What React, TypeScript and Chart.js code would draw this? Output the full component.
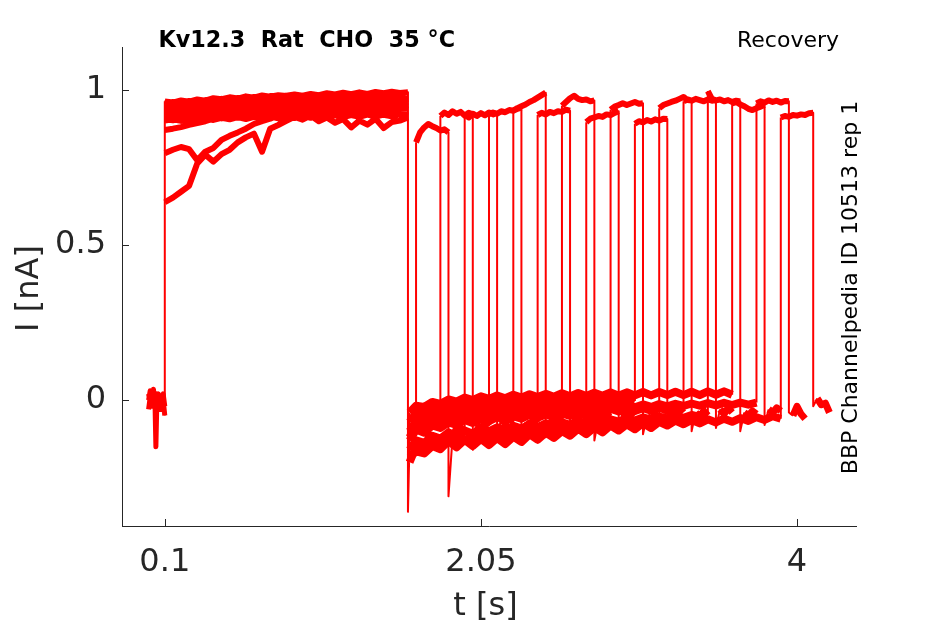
import React, { useEffect, useRef } from "react";
import { Chart, registerables } from "chart.js";

Chart.register(...registerables);

// ---- axes ----
const xTicks = [0.1, 2.05, 4];
const xTickLabels = ["0.1", "2.05", "4"];
const yTicks = [0, 0.5, 1];
const yTickLabels = ["0", "0.5", "1"];
const xRange = [-0.164, 4.364];
const yRange = [-0.4055, 1.137];

const titleText = "Kv12.3  Rat  CHO  35 °C";
const protocolText = "Recovery";
const sideText = "BBP Channelpedia ID 10513 rep 1";
const xTitle = "t [s]";
const yTitle = "I [nA]";

// ---- holding before the activation step (s / nA) ----
const baseTimes = [0, 0.01, 0.02, 0.03, 0.04, 0.045, 0.05, 0.06, 0.07, 0.08, 0.09, 0.1];
const baseProfiles = [
  [0.02, -0.01, 0.03, 0.0, -0.02, -0.15, -0.03, 0.01, -0.02, 0.01, -0.03, -0.04],
  [-0.03, 0.01, -0.02, 0.035, -0.01, 0.0, 0.02, -0.02, 0.01, -0.03, 0.0, -0.05],
  [0.0, 0.03, -0.01, 0.01, 0.02, -0.02, 0.0, 0.02, -0.03, 0.0, 0.02, -0.02],
];
const baseProfileOf = [0, 1, 2, 1, 2, 1, 2, 1, 2, 1, 2, 1, 2, 1, 2, 1];

// ---- activation pulse (nA) ----
const preTimes = [0.1, 0.15, 0.2, 0.25, 0.3, 0.35, 0.4, 0.45, 0.5, 0.55, 0.6, 0.65, 0.7, 0.75, 0.8, 0.85, 0.9, 0.95, 1.0, 1.05, 1.1, 1.15, 1.2, 1.25, 1.3, 1.35, 1.4, 1.45, 1.5, 1.55, 1.6];
const preValues = [
  [0.637, 0.652, 0.671, 0.69, 0.762, 0.79, 0.768, 0.792, 0.806, 0.83, 0.846, 0.858, 0.8, 0.874, 0.886, 0.899, 0.912, 0.903, 0.916, 0.898, 0.91, 0.893, 0.905, 0.878, 0.9, 0.887, 0.906, 0.876, 0.895, 0.9, 0.91],
  [0.795, 0.806, 0.815, 0.808, 0.772, 0.8, 0.812, 0.838, 0.851, 0.862, 0.874, 0.889, 0.898, 0.906, 0.918, 0.928, 0.924, 0.936, 0.94, 0.929, 0.945, 0.938, 0.951, 0.944, 0.955, 0.948, 0.944, 0.939, 0.946, 0.938, 0.935],
  [0.87, 0.874, 0.879, 0.886, 0.892, 0.898, 0.906, 0.913, 0.921, 0.928, 0.934, 0.94, 0.946, 0.95, 0.955, 0.958, 0.954, 0.962, 0.965, 0.956, 0.961, 0.966, 0.959, 0.966, 0.97, 0.962, 0.966, 0.971, 0.964, 0.97, 0.975],
  [0.962, 0.958, 0.965, 0.961, 0.968, 0.964, 0.972, 0.969, 0.975, 0.971, 0.978, 0.974, 0.981, 0.977, 0.982, 0.979, 0.984, 0.98, 0.986, 0.982, 0.988, 0.984, 0.99, 0.985, 0.991, 0.986, 0.992, 0.988, 0.993, 0.989, 0.991],
  [0.955, 0.96, 0.957, 0.963, 0.96, 0.966, 0.962, 0.97, 0.966, 0.973, 0.969, 0.976, 0.972, 0.979, 0.975, 0.98, 0.984, 0.979, 0.986, 0.981, 0.988, 0.983, 0.99, 0.985, 0.989, 0.984, 0.991, 0.986, 0.992, 0.988, 0.99],
  [0.948, 0.953, 0.95, 0.956, 0.952, 0.959, 0.955, 0.962, 0.958, 0.965, 0.961, 0.968, 0.963, 0.97, 0.966, 0.974, 0.97, 0.977, 0.973, 0.979, 0.975, 0.981, 0.977, 0.983, 0.978, 0.984, 0.98, 0.986, 0.981, 0.987, 0.985],
  [0.945, 0.941, 0.948, 0.944, 0.951, 0.947, 0.955, 0.95, 0.958, 0.953, 0.961, 0.956, 0.964, 0.96, 0.967, 0.963, 0.97, 0.966, 0.972, 0.968, 0.975, 0.97, 0.977, 0.972, 0.978, 0.973, 0.98, 0.975, 0.981, 0.976, 0.98],
  [0.94, 0.944, 0.938, 0.946, 0.942, 0.949, 0.944, 0.952, 0.948, 0.956, 0.951, 0.958, 0.954, 0.961, 0.957, 0.963, 0.959, 0.966, 0.961, 0.968, 0.963, 0.97, 0.965, 0.972, 0.967, 0.973, 0.968, 0.975, 0.97, 0.976, 0.975],
  [0.935, 0.93, 0.937, 0.933, 0.94, 0.936, 0.943, 0.938, 0.946, 0.941, 0.949, 0.944, 0.952, 0.947, 0.955, 0.95, 0.957, 0.935, 0.96, 0.954, 0.962, 0.956, 0.964, 0.958, 0.966, 0.945, 0.967, 0.961, 0.969, 0.963, 0.97],
  [0.93, 0.934, 0.928, 0.936, 0.931, 0.939, 0.934, 0.942, 0.937, 0.945, 0.94, 0.947, 0.942, 0.95, 0.945, 0.952, 0.947, 0.955, 0.949, 0.957, 0.951, 0.959, 0.953, 0.96, 0.955, 0.962, 0.956, 0.963, 0.958, 0.964, 0.965],
  [0.925, 0.921, 0.928, 0.923, 0.931, 0.926, 0.934, 0.929, 0.937, 0.932, 0.94, 0.935, 0.943, 0.938, 0.946, 0.94, 0.948, 0.943, 0.95, 0.945, 0.952, 0.925, 0.954, 0.948, 0.956, 0.95, 0.957, 0.93, 0.958, 0.953, 0.96],
  [0.92, 0.924, 0.918, 0.926, 0.921, 0.929, 0.924, 0.932, 0.927, 0.935, 0.93, 0.938, 0.932, 0.94, 0.935, 0.942, 0.937, 0.944, 0.939, 0.946, 0.941, 0.948, 0.943, 0.95, 0.944, 0.951, 0.946, 0.952, 0.947, 0.953, 0.955],
  [0.915, 0.911, 0.918, 0.913, 0.921, 0.916, 0.924, 0.919, 0.927, 0.922, 0.93, 0.925, 0.932, 0.927, 0.935, 0.929, 0.937, 0.931, 0.939, 0.933, 0.941, 0.935, 0.943, 0.937, 0.944, 0.938, 0.946, 0.94, 0.947, 0.942, 0.95],
  [0.91, 0.914, 0.908, 0.916, 0.911, 0.918, 0.913, 0.92, 0.915, 0.922, 0.917, 0.924, 0.919, 0.926, 0.921, 0.928, 0.923, 0.93, 0.925, 0.932, 0.927, 0.934, 0.91, 0.936, 0.93, 0.937, 0.932, 0.938, 0.933, 0.939, 0.94],
  [0.905, 0.901, 0.908, 0.903, 0.91, 0.905, 0.912, 0.907, 0.914, 0.909, 0.916, 0.911, 0.918, 0.913, 0.92, 0.915, 0.922, 0.917, 0.924, 0.918, 0.925, 0.919, 0.926, 0.92, 0.927, 0.921, 0.928, 0.922, 0.929, 0.923, 0.93],
  [0.9, 0.904, 0.899, 0.906, 0.9, 0.908, 0.902, 0.909, 0.904, 0.911, 0.905, 0.912, 0.906, 0.913, 0.907, 0.914, 0.908, 0.915, 0.909, 0.916, 0.91, 0.917, 0.911, 0.918, 0.912, 0.919, 0.913, 0.919, 0.914, 0.92, 0.92],
];

// ---- tail after the activation pulse (nA) ----
const tailDrop = [-0.36, -0.24, -0.2, -0.22, -0.18, -0.15, -0.2, -0.17, -0.14, -0.19, -0.16, -0.12, -0.21, -0.15, -0.18, -0.13];
const tailTimes = [1.61, 1.65, 1.7, 1.75, 1.8, 1.85, 1.9, 1.95, 2.0, 2.05, 2.1, 2.15, 2.2, 2.25, 2.3, 2.35, 2.4, 2.45, 2.5, 2.55, 2.6, 2.65, 2.7, 2.75, 2.8, 2.85, 2.9, 2.95, 3.0, 3.05, 3.1, 3.15, 3.2, 3.25, 3.3, 3.35, 3.4, 3.45, 3.5, 3.55, 3.6, 3.65, 3.7, 3.75, 3.8, 3.85, 3.9];
const tailProfiles = [
  [-0.185, -0.165, -0.172, -0.148, -0.158, -0.132, -0.152, -0.128, -0.148, -0.125, -0.145, -0.122, -0.142, -0.118, -0.135, -0.11, -0.128, -0.105, -0.122, -0.1, -0.115, -0.092, -0.11, -0.088, -0.104, -0.082, -0.098, -0.078, -0.094, -0.074, -0.09, -0.07, -0.086, -0.068, -0.082, -0.064, -0.078, -0.06, -0.074, -0.058, -0.07, -0.054, -0.066, -0.05, -0.062, -0.048, -0.056],
  [-0.16, -0.13, -0.138, -0.115, -0.124, -0.104, -0.115, -0.098, -0.108, -0.092, -0.101, -0.088, -0.096, -0.083, -0.092, -0.079, -0.088, -0.075, -0.084, -0.072, -0.08, -0.068, -0.076, -0.065, -0.072, -0.062, -0.069, -0.059, -0.066, -0.056, -0.063, -0.053, -0.06, -0.05, -0.057, -0.048, -0.054, -0.046, -0.052, -0.044, -0.05, -0.042, -0.048, -0.04, -0.046, -0.038, -0.044],
  [-0.13, -0.095, -0.105, -0.082, -0.09, -0.072, -0.08, -0.064, -0.074, -0.06, -0.068, -0.055, -0.064, -0.052, -0.06, -0.048, -0.057, -0.046, -0.054, -0.043, -0.051, -0.04, -0.049, -0.038, -0.047, -0.036, -0.045, -0.035, -0.043, -0.033, -0.042, -0.032, -0.04, -0.03, -0.039, -0.029, -0.037, -0.028, -0.036, -0.027, -0.035, -0.026, -0.034, -0.025, -0.033, -0.024, -0.03],
  [-0.1, -0.068, -0.075, -0.055, -0.062, -0.046, -0.054, -0.04, -0.048, -0.036, -0.043, -0.032, -0.04, -0.029, -0.037, -0.026, -0.034, -0.024, -0.031, -0.022, -0.029, -0.02, -0.027, -0.018, -0.026, -0.017, -0.024, -0.015, -0.023, -0.014, -0.022, -0.013, -0.02, -0.012, -0.019, -0.011, -0.018, -0.01, -0.017, -0.009, -0.016, -0.008, -0.015, -0.008, -0.014, -0.007, -0.012],
  [-0.07, -0.042, -0.048, -0.03, -0.036, -0.022, -0.029, -0.016, -0.024, -0.012, -0.02, -0.009, -0.016, -0.006, -0.014, -0.004, -0.012, -0.002, -0.01, 0.0, -0.008, 0.002, -0.006, 0.003, -0.005, 0.004, -0.004, 0.005, -0.003, 0.006, -0.002, 0.007, -0.001, 0.008, 0.0, 0.008, 0.001, 0.009, 0.001, 0.01, 0.002, 0.01, 0.003, 0.011, 0.003, 0.012, 0.005],
  [-0.04, -0.018, -0.022, -0.006, -0.012, 0.002, -0.005, 0.008, 0.0, 0.012, 0.004, 0.015, 0.006, 0.017, 0.008, 0.019, 0.01, 0.02, 0.011, 0.022, 0.012, 0.023, 0.013, 0.024, 0.014, 0.025, 0.014, 0.025, 0.015, 0.026, 0.015, 0.026, 0.016, 0.027, 0.016, 0.027, 0.016, 0.028, 0.017, 0.028, 0.017, 0.029, 0.017, 0.028, 0.016, 0.027, 0.018],
  [-0.2, -0.15, -0.16, -0.135, -0.155, -0.12, -0.14, -0.125, -0.135, -0.11, -0.13, -0.105, -0.125, -0.1, -0.118, -0.095, -0.112, -0.092, -0.108, -0.088, -0.104, -0.085, -0.1, -0.08, -0.096, -0.078, -0.092, -0.075, -0.088, -0.072, -0.085, -0.07, -0.082, -0.066, -0.078, -0.064, -0.075, -0.062, -0.072, -0.06, -0.07, -0.058, -0.067, -0.055, -0.064, -0.052, -0.06],
  [-0.12, -0.08, -0.09, -0.066, -0.075, -0.058, -0.068, -0.05, -0.062, -0.047, -0.056, -0.043, -0.052, -0.04, -0.049, -0.037, -0.046, -0.035, -0.044, -0.033, -0.042, -0.031, -0.04, -0.03, -0.038, -0.028, -0.037, -0.027, -0.035, -0.026, -0.034, -0.025, -0.033, -0.024, -0.032, -0.023, -0.031, -0.022, -0.03, -0.021, -0.029, -0.02, -0.028, -0.019, -0.027, -0.018, -0.022],
];
const tailProfileOf = [2, 4, 0, 7, 1, 5, 3, 6, 2, 4, 0, 7, 1, 5, 3, 6];

// ---- test pulses (start time in s, values in nA) ----
const testStarts = [1.65, 1.8, 1.95, 2.1, 2.25, 2.4, 2.55, 2.7, 2.85, 3.0, 3.15, 3.3, 3.45, 3.6, 3.75, 3.9];
const testOffsets = [0, 0.025, 0.05, 0.075, 0.1, 0.125, 0.15, 0.175, 0.2];
const testValues = [
  [0.83, 0.862, 0.878, 0.889, 0.882, 0.876, 0.868, 0.872, 0.862],
  [0.915, 0.926, 0.918, 0.93, 0.922, 0.928, 0.916, 0.925, 0.92],
  [0.918, 0.91, 0.922, 0.915, 0.924, 0.917, 0.926, 0.92, 0.925],
  [0.92, 0.926, 0.922, 0.93, 0.927, 0.934, 0.932, 0.938, 0.942],
  [0.932, 0.94, 0.946, 0.952, 0.96, 0.966, 0.974, 0.982, 0.99],
  [0.918, 0.925, 0.92, 0.928, 0.924, 0.93, 0.928, 0.935, 0.932],
  [0.948, 0.96, 0.972, 0.98, 0.97, 0.966, 0.968, 0.962, 0.965],
  [0.895, 0.906, 0.91, 0.915, 0.912, 0.92, 0.918, 0.925, 0.93],
  [0.935, 0.945, 0.95, 0.956, 0.95, 0.955, 0.96, 0.954, 0.956],
  [0.89, 0.898, 0.894, 0.902, 0.897, 0.904, 0.9, 0.906, 0.905],
  [0.94, 0.95, 0.955, 0.96, 0.964, 0.97, 0.976, 0.966, 0.965],
  [0.962, 0.968, 0.964, 0.97, 0.966, 0.962, 0.968, 0.964, 0.966],
  [0.995, 0.97, 0.965, 0.968, 0.962, 0.966, 0.96, 0.964, 0.962],
  [0.955, 0.96, 0.952, 0.946, 0.938, 0.934, 0.94, 0.945, 0.95],
  [0.955, 0.962, 0.958, 0.965, 0.96, 0.964, 0.958, 0.963, 0.962],
  [0.91, 0.915, 0.912, 0.918, 0.916, 0.92, 0.918, 0.924, 0.925],
];

// ---- after each test pulse (offset from test start in s, values in nA) ----
const postOffsets = [0.2, 0.225, 0.25, 0.275, 0.3];
const postValues = [
  [-0.31, -0.12, -0.09, -0.1, -0.085],
  [-0.16, -0.08, -0.095, -0.07, -0.085],
  [-0.12, -0.06, -0.075, -0.055, -0.07],
  [-0.14, -0.07, -0.085, -0.06, -0.075],
  [-0.12, -0.06, -0.07, -0.05, -0.065],
  [-0.1, -0.045, -0.06, -0.04, -0.055],
  [-0.13, -0.06, -0.075, -0.05, -0.065],
  [-0.09, -0.04, -0.055, -0.035, -0.05],
  [-0.11, -0.05, -0.065, -0.045, -0.06],
  [-0.08, -0.03, -0.045, -0.025, -0.04],
  [-0.1, -0.04, -0.055, -0.035, -0.05],
  [-0.09, -0.03, -0.045, -0.025, -0.04],
  [-0.1, -0.04, -0.05, -0.035, -0.045],
  [-0.08, -0.03, -0.04, -0.025, -0.035],
  [-0.04, -0.05, -0.02, -0.045, -0.06],
  [-0.02, 0.005, -0.015, -0.01, -0.04],
];

const traceColor = "#ff0000";
const axisColor = "#262626";
const font = "'DejaVu Sans', sans-serif";

type P = { x: number; y: number | null };

function buildSegments() {
  const base: P[] = [];
  const pre: P[] = [];
  const tail: P[] = [];
  const test: P[] = [];
  const post: P[] = [];
  const links: P[] = [];
  const gap = (arr: P[]) => arr.push({ x: arr.length ? arr[arr.length - 1].x : 0, y: null });
  testStarts.forEach((s, i) => {
    const b = baseProfiles[baseProfileOf[i]];
    baseTimes.forEach((t, j) => base.push({ x: t, y: b[j] }));
    gap(base);
    const pv = preValues[i];
    preTimes.forEach((t, j) => pre.push({ x: t, y: pv[j] }));
    gap(pre);
    const tp = tailProfiles[tailProfileOf[i]];
    let lastTail = tp[0];
    tailTimes.forEach((t, j) => {
      if (t <= s + 1e-9) {
        tail.push({ x: t, y: tp[j] });
        lastTail = tp[j];
      }
    });
    gap(tail);
    const tv = testValues[i];
    testOffsets.forEach((o, j) => test.push({ x: s + o, y: tv[j] }));
    gap(test);
    const pw = postValues[i];
    postOffsets.forEach((o, j) => {
      if (j > 0) post.push({ x: s + o, y: pw[j] });
    });
    gap(post);

    // vertical transitions
    links.push({ x: baseTimes[baseTimes.length - 1], y: b[b.length - 1] });
    links.push({ x: preTimes[0], y: pv[0] });
    gap(links);
    links.push({ x: preTimes[preTimes.length - 1], y: pv[pv.length - 1] });
    links.push({ x: preTimes[preTimes.length - 1], y: tailDrop[i] });
    links.push({ x: tailTimes[0], y: tp[0] });
    gap(links);
    links.push({ x: s, y: lastTail });
    links.push({ x: s + testOffsets[0], y: tv[0] });
    gap(links);
    links.push({ x: s + testOffsets[testOffsets.length - 1], y: tv[tv.length - 1] });
    links.push({ x: s + postOffsets[0], y: pw[0] });
    links.push({ x: s + postOffsets[1], y: pw[1] });
    gap(links);
  });
  return { base, pre, tail, test, post, links };
}

const decor = {
  id: "decor",
  afterDraw(chart: any) {
    const { ctx, chartArea, scales } = chart;
    const x = scales.x;
    const y = scales.y;
    ctx.save();
    ctx.strokeStyle = axisColor;
    ctx.lineWidth = 1;
    ctx.beginPath();
    xTicks.forEach((v) => {
      const px = Math.round(x.getPixelForValue(v)) + 0.5;
      ctx.moveTo(px, chartArea.bottom);
      ctx.lineTo(px, chartArea.bottom - 7);
    });
    yTicks.forEach((v) => {
      const py = Math.round(y.getPixelForValue(v)) + 0.5;
      ctx.moveTo(chartArea.left, py);
      ctx.lineTo(chartArea.left + 7, py);
    });
    ctx.stroke();

    ctx.fillStyle = "#000000";
    ctx.textBaseline = "alphabetic";
    ctx.font = `bold 22.3px ${font}`;
    ctx.textAlign = "left";
    ctx.fillText(titleText, 158.5, 47);
    ctx.font = `22px ${font}`;
    ctx.textAlign = "right";
    ctx.fillText(protocolText, 839, 46.5);

    ctx.save();
    ctx.translate(856.5, 287.5);
    ctx.rotate(-Math.PI / 2);
    ctx.textAlign = "center";
    ctx.fillText(sideText, 0, 0);
    ctx.restore();

    ctx.fillStyle = axisColor;
    ctx.font = `32px ${font}`;
    ctx.textAlign = "center";
    ctx.fillText(xTitle, 485.5, 615);
    ctx.save();
    ctx.translate(37.5, 288.5);
    ctx.rotate(-Math.PI / 2);
    ctx.fillText(yTitle, 0, 0);
    ctx.restore();
    ctx.restore();
  },
};

function lineSet(label: string, data: P[], width: number) {
  return {
    label,
    data,
    borderColor: traceColor,
    backgroundColor: traceColor,
    borderWidth: width,
    pointRadius: 0,
    pointHoverRadius: 0,
    fill: false,
    tension: 0,
    spanGaps: false,
    borderJoinStyle: "round" as const,
    borderCapStyle: "butt" as const,
  };
}

export default function App() {
  const ref = useRef<HTMLCanvasElement>(null);
  useEffect(() => {
    const canvas = ref.current;
    if (!canvas) return;
    const seg = buildSegments();
    const datasets = [
      lineSet("holding", seg.base, 5),
      lineSet("activation", seg.pre, 6),
      lineSet("tail", seg.tail, 8),
      lineSet("test", seg.test, 6),
      lineSet("after test", seg.post, 7),
      lineSet("steps", seg.links, 2),
    ];
    const chart = new Chart(canvas, {
      type: "line",
      data: { datasets },
      options: {
        animation: false,
        responsive: false,
        devicePixelRatio: 1,
        events: [],
        layout: { padding: { left: 0, top: 47, right: 89, bottom: 0 } },
        plugins: {
          legend: { display: false },
          tooltip: { enabled: false },
          title: { display: false },
        },
        scales: {
          x: {
            type: "linear",
            min: xRange[0],
            max: xRange[1],
            afterBuildTicks: (s: any) => {
              s.ticks = xTicks.map((v) => ({ value: v }));
            },
            afterFit: (s: any) => {
              s.height = 98;
            },
            grid: { display: false, drawTicks: false },
            border: { display: true, color: axisColor, width: 1 },
            ticks: {
              autoSkip: false,
              maxRotation: 0,
              minRotation: 0,
              padding: 17,
              color: axisColor,
              font: { family: font, size: 32 },
              callback: (_v: any, idx: number) => xTickLabels[idx],
            },
          },
          y: {
            type: "linear",
            min: yRange[0],
            max: yRange[1],
            afterBuildTicks: (s: any) => {
              s.ticks = yTicks.map((v) => ({ value: v }));
            },
            afterFit: (s: any) => {
              s.width = 122;
            },
            grid: { display: false, drawTicks: false },
            border: { display: true, color: axisColor, width: 1 },
            ticks: {
              autoSkip: false,
              padding: 16,
              color: axisColor,
              font: { family: font, size: 32 },
              callback: (_v: any, idx: number) => yTickLabels[idx],
            },
          },
        },
      },
      plugins: [decor],
    });
    return () => chart.destroy();
  }, []);
  return (
    <div style={{ position: "fixed", left: 0, top: 0, width: 945, height: 624, background: "#ffffff" }}>
      <canvas ref={ref} width={945} height={624} style={{ width: 945, height: 624, display: "block" }} />
    </div>
  );
}
